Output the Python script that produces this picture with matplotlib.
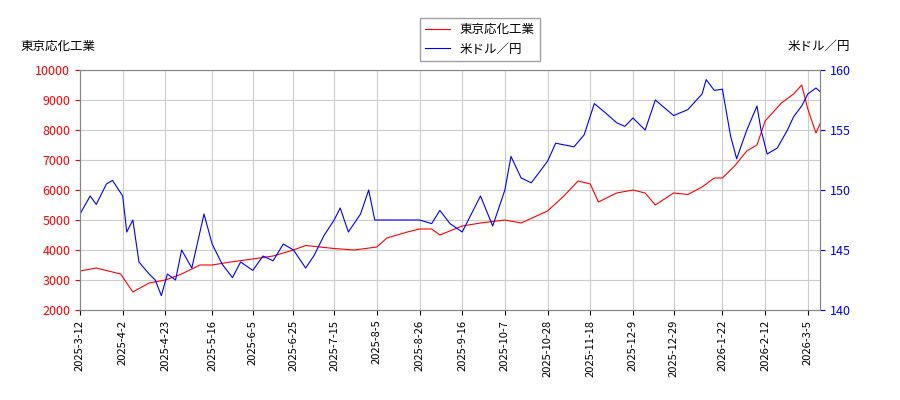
import matplotlib
matplotlib.use("Agg")
import matplotlib.pyplot as plt
import pandas as pd

plt.rcParams['font.family'] = ['Noto Sans CJK JP', 'DejaVu Sans']

tick_labels = ["2025-3-12","2025-4-2","2025-4-23","2025-5-16","2025-6-5","2025-6-25","2025-7-15","2025-8-5","2025-8-26","2025-9-16","2025-10-7","2025-10-28","2025-11-18","2025-12-9","2025-12-29","2026-1-22","2026-2-12","2026-3-5"]

stock_dates = ["2025-03-12","2025-03-20","2025-04-01","2025-04-07","2025-04-15","2025-04-23","2025-05-01","2025-05-10","2025-05-16","2025-05-25","2025-06-05","2025-06-15","2025-06-25","2025-07-01","2025-07-15","2025-07-25","2025-08-05","2025-08-10","2025-08-20","2025-08-26","2025-09-01","2025-09-05","2025-09-16","2025-09-25","2025-10-07","2025-10-15","2025-10-28","2025-11-05","2025-11-12","2025-11-18","2025-11-22","2025-12-01","2025-12-09","2025-12-15","2025-12-20","2025-12-29","2026-01-05","2026-01-12","2026-01-18","2026-01-22","2026-01-28","2026-02-03","2026-02-08","2026-02-12","2026-02-20","2026-02-26","2026-03-02","2026-03-05","2026-03-09","2026-03-11"]
stock_values = [3300,3400,3200,2600,2900,3000,3200,3500,3500,3600,3700,3800,4000,4150,4050,4000,4100,4400,4600,4700,4700,4500,4800,4900,5000,4900,5300,5800,6300,6200,5600,5900,6000,5900,5500,5900,5850,6100,6400,6400,6800,7300,7500,8300,8900,9200,9500,8700,7900,8200]

fx_dates = ["2025-03-12","2025-03-17","2025-03-20","2025-03-25","2025-03-28","2025-04-02","2025-04-04","2025-04-07","2025-04-10","2025-04-15","2025-04-18","2025-04-21","2025-04-24","2025-04-28","2025-05-01","2025-05-06","2025-05-12","2025-05-16","2025-05-21","2025-05-26","2025-05-30","2025-06-05","2025-06-10","2025-06-15","2025-06-20","2025-06-25","2025-07-01","2025-07-05","2025-07-10","2025-07-15","2025-07-18","2025-07-22","2025-07-28","2025-08-01","2025-08-04","2025-08-10","2025-08-20","2025-08-26","2025-09-01","2025-09-05","2025-09-10","2025-09-16","2025-09-25","2025-10-01","2025-10-07","2025-10-10","2025-10-15","2025-10-20","2025-10-28","2025-11-01","2025-11-10","2025-11-15","2025-11-20","2025-11-25","2025-12-01","2025-12-05","2025-12-09","2025-12-15","2025-12-20","2025-12-29","2026-01-05","2026-01-12","2026-01-14","2026-01-18","2026-01-22","2026-01-26","2026-01-29","2026-02-03","2026-02-08","2026-02-10","2026-02-13","2026-02-18","2026-02-23","2026-02-26","2026-03-02","2026-03-05","2026-03-09","2026-03-11"]
fx_values = [148,149.5,148.8,150.5,150.8,149.5,146.5,147.5,144,143,142.5,141.2,143,142.5,145,143.5,148.0,145.5,143.8,142.7,144,143.3,144.5,144.1,145.5,145,143.5,144.5,146.2,147.5,148.5,146.5,148,150,147.5,147.5,147.5,147.5,147.2,148.3,147.2,146.5,149.5,147,150,152.8,151,150.6,152.4,153.9,153.6,154.6,157.2,156.5,155.6,155.3,156,155,157.5,156.2,156.7,158.0,159.2,158.3,158.4,154.5,152.6,155,157,155,153,153.5,155.0,156.1,157,158,158.5,158.2]

sd = pd.to_datetime(stock_dates)
fd = pd.to_datetime(fx_dates)

fig = plt.figure(figsize=(9, 4), dpi=100)
ax = fig.add_axes([80/900, 90/400, 740/900, 240/400])
ax2 = ax.twinx()
l1, = ax.plot(sd, stock_values, color='red', lw=0.8, label='東京応化工業')
l2, = ax2.plot(fd, fx_values, color='blue', lw=0.8, label='米ドル／円')
ax.set_ylim(2000, 10000)
ax2.set_ylim(140, 160)
ax.set_xlim(pd.Timestamp("2025-03-12"), pd.Timestamp("2026-03-11"))
ax.set_xticks(pd.to_datetime(tick_labels))
ax.set_xticklabels(tick_labels, rotation=90, fontsize=8)
ax.grid(True, color='#cccccc', lw=0.8)
ax.tick_params(axis='y', colors='red', labelsize=9)
ax2.tick_params(axis='y', colors='blue', labelsize=9)
ax2.set_yticks([140,145,150,155,160])
for a in (ax, ax2):
    for s in a.spines.values():
        s.set_color('#888888')
fig.text(20/900, 1-46/400, '東京応化工業', fontsize=9, va='center')
fig.text(850/900, 1-46/400, '米ドル／円', fontsize=9, va='center', ha='right')
fig.legend(handles=[l1, l2], loc='upper center', bbox_to_anchor=(0.533, 0.97), fontsize=9, frameon=True, fancybox=False, edgecolor='#888888')
fig.savefig("out.png")
